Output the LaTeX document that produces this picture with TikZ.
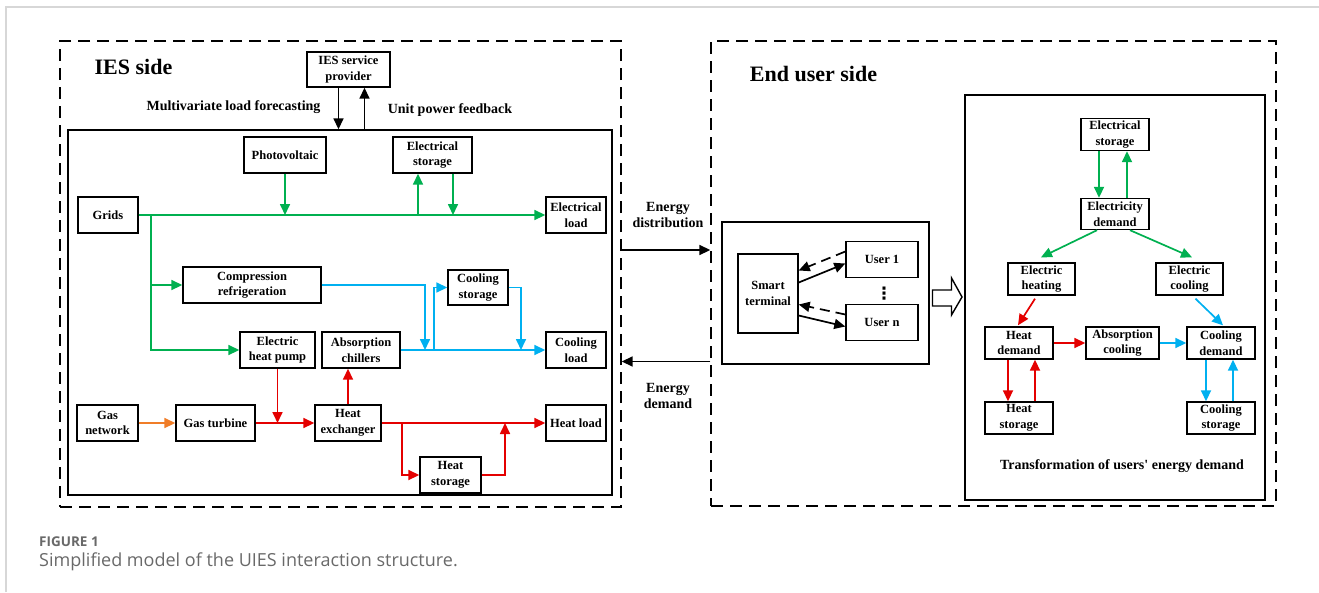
\documentclass[tikz,border=0pt]{standalone}
\usepackage{fontspec}
\setmainfont{Liberation Serif}
\newfontfamily\capfont{Open Sans}
\newfontfamily\symfont{DejaVu Sans}
\usetikzlibrary{arrows.meta}
\definecolor{cgreen}{RGB}{0,176,80}
\definecolor{cblue}{RGB}{0,176,240}
\definecolor{cred}{RGB}{228,0,0}
\definecolor{corange}{RGB}{240,125,40}
\definecolor{capgray}{RGB}{105,105,105}
\definecolor{framegray}{RGB}{215,215,215}
\tikzset{
  box/.style={draw, line width=1.4pt, inner sep=0pt, align=center,
    font=\bfseries\fontsize{12.5}{15.5}\selectfont},
  sz/.style 2 args={minimum width=#1pt, minimum height=#2pt},
  panel/.style={draw, line width=1.4pt, inner sep=0pt},
  dashpanel/.style={draw, line width=1.4pt, inner sep=0pt, dash pattern=on 12pt off 7pt},
  lbl/.style={align=center, font=\bfseries\fontsize{14}{16}\selectfont},
  title/.style={font=\bfseries\fontsize{22}{26}\selectfont},
  flow/.style={line width=1.7pt, -{Triangle[length=11pt,width=10pt]}},
  gflow/.style={flow, draw=cgreen},
  bflow/.style={flow, draw=cblue},
  rflow/.style={flow, draw=cred},
  oflow/.style={flow, draw=corange},
  kflow/.style={flow, draw=black},
  kdash/.style={kflow, dash pattern=on 10pt off 6pt},
}
\begin{document}
\begin{tikzpicture}[x=1pt,y=-1pt]
\useasboundingbox (0,0) rectangle (1319,592);

% page frame
\draw[framegray, line width=1.3pt] (6,592) -- (6,7) -- (1319,7);

% ---------------- IES side ----------------
\node[dashpanel, sz={561}{466}] (iesside) at (340.5,274) {};
\node[title] (iestitle) at (133.5,67) {IES side};
\node[box, sz={83}{35}] (isp) at (348.5,69.5) {IES service\\provider};
\node[panel, sz={544}{365}] (iesin) at (340,312.5) {};
\node[lbl] (mlf) at (233.5,107) {Multivariate load forecasting};
\node[lbl] (upf) at (450,110) {Unit power feedback};
\draw[kflow] ([xshift=-10pt]isp.south) -- ([xshift=-10pt]isp.south |- iesin.north);
\draw[kflow] ([xshift=16pt]isp.south |- iesin.north) -- ([xshift=16pt]isp.south);

\node[box, sz={82}{36}] (pv) at (285,155) {Photovoltaic};
\node[box, sz={79}{36}] (es) at (432.5,155) {Electrical\\storage};
\node[box, sz={60}{36}] (grids) at (108,215) {Grids};
\node[box, sz={60}{36}] (eload) at (576,215) {Electrical\\load};
\node[box, sz={138}{36}] (comp) at (252,285) {Compression\\refrigeration};
\node[box, sz={60}{35}] (cst) at (478,287.5) {Cooling\\storage};
\node[box, sz={75}{36}] (ehp) at (277.5,350) {Electric\\heat pump};
\node[box, sz={78}{36}] (ach) at (361,350) {Absorption\\chillers};
\node[box, sz={60}{36}] (cload) at (576,350) {Cooling\\load};
\node[box, sz={61}{36}] (gas) at (107.5,423) {Gas\\network};
\node[box, sz={79}{36}] (gt) at (215.5,423) {Gas turbine};
\node[box, sz={66}{36}] (hx) at (348,423) {Heat\\exchanger};
\node[box, sz={60}{36}] (hload) at (576,423) {Heat load};
\node[box, sz={61}{36}] (hst) at (450.5,475) {Heat\\storage};

% electricity
\coordinate (gj) at (151,215);
\draw[gflow] (grids.east) -- (eload.west);
\draw[gflow] (pv.south) -- (pv.south |- grids.east);
\draw[gflow] ([xshift=-14.5pt]es.south |- grids.east) -- ([xshift=-14.5pt]es.south);
\draw[gflow] ([xshift=20.5pt]es.south) -- ([xshift=20.5pt]es.south |- grids.east);
\draw[gflow] (gj) |- (comp.west);
\draw[gflow] (gj) |- (ehp.west);

% cooling
\coordinate (cj) at (425,350);
\coordinate (cb) at (434,350);
\coordinate (cs) at (521,350);
\draw[bflow] (comp.east) -| (cj);
\draw[bflow] (ach.east) -- (cload.west);
\draw[bflow] (cb) |- (cst.west);
\draw[bflow] (cst.east) -| (cs);

% gas and heat
\coordinate (hb) at (402,423);
\coordinate (hr) at (505,423);
\draw[oflow] (gas.east) -- (gt.west);
\draw[rflow] (gt.east) -- (hx.west);
\draw[rflow] (ehp.south) -- (ehp.south |- hx.west);
\draw[rflow] (hx.north) -- (hx.north |- ach.south);
\draw[rflow] (hx.east) -- (hload.west);
\draw[rflow] (hb) |- (hst.west);
\draw[rflow] (hst.east) -| (hr);

% ---------------- exchange between the sides ----------------
\node[dashpanel, sz={565}{465}] (euside) at (993.5,273.5) {};
\coordinate (dlev) at (0,250);
\coordinate (mlev) at (0,361.5);
\node[lbl] (edist) at (668,215) {Energy\\distribution};
\node[lbl] (edem) at (668,396) {Energy\\demand};
\draw[kflow] (iesside.east |- dlev) -- (euside.west |- dlev);
\draw[kflow] (euside.west |- mlev) -- (iesside.east |- mlev);

% ---------------- End user side ----------------
\node[title] (eutitle) at (813.5,74) {End user side};
\node[panel, sz={207}{142}] (stpanel) at (825.5,293) {};
\node[box, sz={60}{79}] (st) at (768,293.5) {Smart\\terminal};
\node[box, sz={72}{36}] (u1) at (882,259.5) {User 1};
\node[box, sz={72}{36}] (un) at (882,322.5) {User n};
\node[inner sep=0pt, font=\symfont\bfseries\fontsize{17}{17}\selectfont] (dots) at (884,294) {⋮};
\draw[kflow] ([yshift=11pt]st.east) -- ([yshift=-4pt]u1.west);
\draw[kdash] ([yshift=8pt]u1.west) -- ([yshift=23pt]st.east);
\draw[kflow] ([yshift=-22pt]st.east) -- ([yshift=-4pt]un.west);
\draw[kdash] ([yshift=8pt]un.west) -- ([yshift=-11pt]st.east);
\draw[line width=1.4pt, fill=white] (932.5,290) -- (951.5,290) -- (951.5,278) -- (962,297)
  -- (951.5,315) -- (951.5,306) -- (932.5,306) -- cycle;

\node[panel, sz={300}{405}] (euin) at (1115,297.5) {};
\node[box, sz={68}{32}] (es2) at (1115,134.5) {Electrical\\storage};
\node[box, sz={68}{31}] (ed) at (1115,214) {Electricity\\demand};
\node[box, sz={67}{32}] (eh) at (1041.5,279) {Electric\\heating};
\node[box, sz={67}{32}] (ec) at (1189.5,279) {Electric\\cooling};
\node[box, sz={68}{32}] (hd) at (1019,343) {Heat\\demand};
\node[box, sz={73}{32}] (ac) at (1122.5,343) {Absorption\\cooling};
\node[box, sz={68}{32}] (cd) at (1221,343) {Cooling\\demand};
\node[box, sz={68}{32}] (hs2) at (1019,418) {Heat\\storage};
\node[box, sz={68}{32}] (cs2) at (1221,418) {Cooling\\storage};
\node[lbl, font=\bfseries\fontsize{14}{16}\selectfont] (trans) at (1122,466) {Transformation of users\textquotesingle\ energy demand};

\draw[gflow] ([xshift=-16pt]es2.south) -- ([xshift=-16pt]es2.south |- ed.north);
\draw[gflow] ([xshift=12pt]ed.north) -- ([xshift=12pt]es2.south |- es2.south);
\draw[gflow] ([xshift=-18pt]ed.south) -- ([xshift=-0.5pt,yshift=5pt]eh.north);
\draw[gflow] ([xshift=15pt]ed.south) -- ([xshift=2.5pt,yshift=5pt]ec.north);
\draw[rflow] ([xshift=-6.5pt,yshift=-3pt]eh.south) -- ([xshift=-1pt,yshift=1pt]hd.north);
\draw[bflow] ([xshift=6pt,yshift=-3pt]ec.south) -- ([xshift=2pt,yshift=1pt]cd.north);
\draw[rflow] (hd.east) -- (ac.west);
\draw[bflow] (ac.east) -- (cd.west);
\draw[rflow] ([xshift=-11pt]hd.south) -- ([xshift=-11pt]hs2.north);
\draw[rflow] ([xshift=16pt]hs2.north) -- ([xshift=16pt]hd.south);
\draw[bflow] ([xshift=-15pt]cd.south) -- ([xshift=-15pt]cs2.north);
\draw[bflow] ([xshift=12pt]cs2.north) -- ([xshift=12pt]cd.south);

% ---------------- caption ----------------
\node[anchor=west, inner sep=0pt, text=capgray, font=\capfont\bfseries\fontsize{13.5}{16}\selectfont] (fig) at (39,542) {FIGURE 1};
\node[anchor=west, inner sep=0pt, text=capgray, font=\capfont\fontsize{18}{21}\selectfont] (cap) at (39,562) {Simplified model of the UIES interaction structure.};
\end{tikzpicture}
\end{document}
